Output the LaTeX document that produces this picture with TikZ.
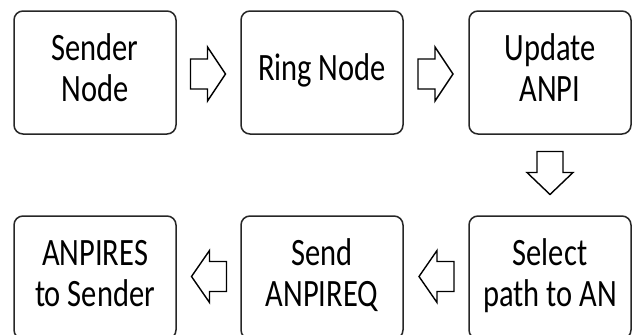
\documentclass[tikz,border=0pt]{standalone}
\usepackage{fontspec}
\setmainfont{Carlito}
\usetikzlibrary{calc}
\newcommand{\vtxt}[1]{\scalebox{1}[1.27]{\begin{tabular}{@{}c@{}}#1\end{tabular}}}
\tikzset{
  box/.style={draw=black!85, line width=1.5pt, rounded corners=9pt, fill=white,
    minimum width=162pt, minimum height=123pt, inner sep=0pt,
    font=\fontsize{30.5}{32.5}\selectfont},
  fatarrow/.style={draw=black, line width=1.4pt, fill=white, line join=miter}
}
\begin{document}
\begin{tikzpicture}[x=1pt,y=-1pt]
\useasboundingbox (0,0) rectangle (638,335);
\node[box] (sender) at (95,72.5) {\vtxt{Sender\\Node}};
\node[box] (ring) at (322,72.5) {\vtxt{Ring Node}};
\node[box] (update) at (550,72.5) {\vtxt{Update\\ANPI}};
\node[box] (select) at (550,277.5) {\vtxt{Select\\path to AN}};
\node[box] (send) at (322,277.5) {\vtxt{Send\\ANPIREQ}};
\node[box] (anpires) at (95,277.5) {\vtxt{ANPIRES\\to Sender}};
% right arrows
\coordinate (m1) at ($(sender.east)!0.5!(ring.west)+(0,1.5)$);
\coordinate (m2) at ($(ring.east)!0.5!(update.west)+(0,1.5)$);
\foreach \m in {m1,m2}{
  \draw[fatarrow] ([shift={(-18,-15)}]\m) -- ([shift={(-1,-15)}]\m) -- ([shift={(-1,-27)}]\m)
    -- ([shift={(17,0)}]\m) -- ([shift={(-1,27)}]\m) -- ([shift={(-1,15)}]\m)
    -- ([shift={(-18,15)}]\m) -- cycle;
}
% left arrows
\coordinate (m3) at ($(select.west)!0.5!(send.east)+(0,-1)$);
\coordinate (m4) at ($(send.west)!0.5!(anpires.east)+(0,-1)$);
\foreach \m in {m3,m4}{
  \draw[fatarrow] ([shift={(18,-15)}]\m) -- ([shift={(1,-15)}]\m) -- ([shift={(1,-26)}]\m)
    -- ([shift={(-17,0)}]\m) -- ([shift={(1,26)}]\m) -- ([shift={(1,15)}]\m)
    -- ([shift={(18,15)}]\m) -- cycle;
}
% down arrow
\coordinate (m5) at ($(update.south)!0.5!(select.north)+(0,-1.5)$);
\draw[fatarrow] ([shift={(-13,-22)}]m5) -- ([shift={(13,-22)}]m5) -- ([shift={(13,-1)}]m5)
  -- ([shift={(23,-1)}]m5) -- ([shift={(0,21)}]m5) -- ([shift={(-23,-1)}]m5)
  -- ([shift={(-13,-1)}]m5) -- cycle;
\end{tikzpicture}
\end{document}
